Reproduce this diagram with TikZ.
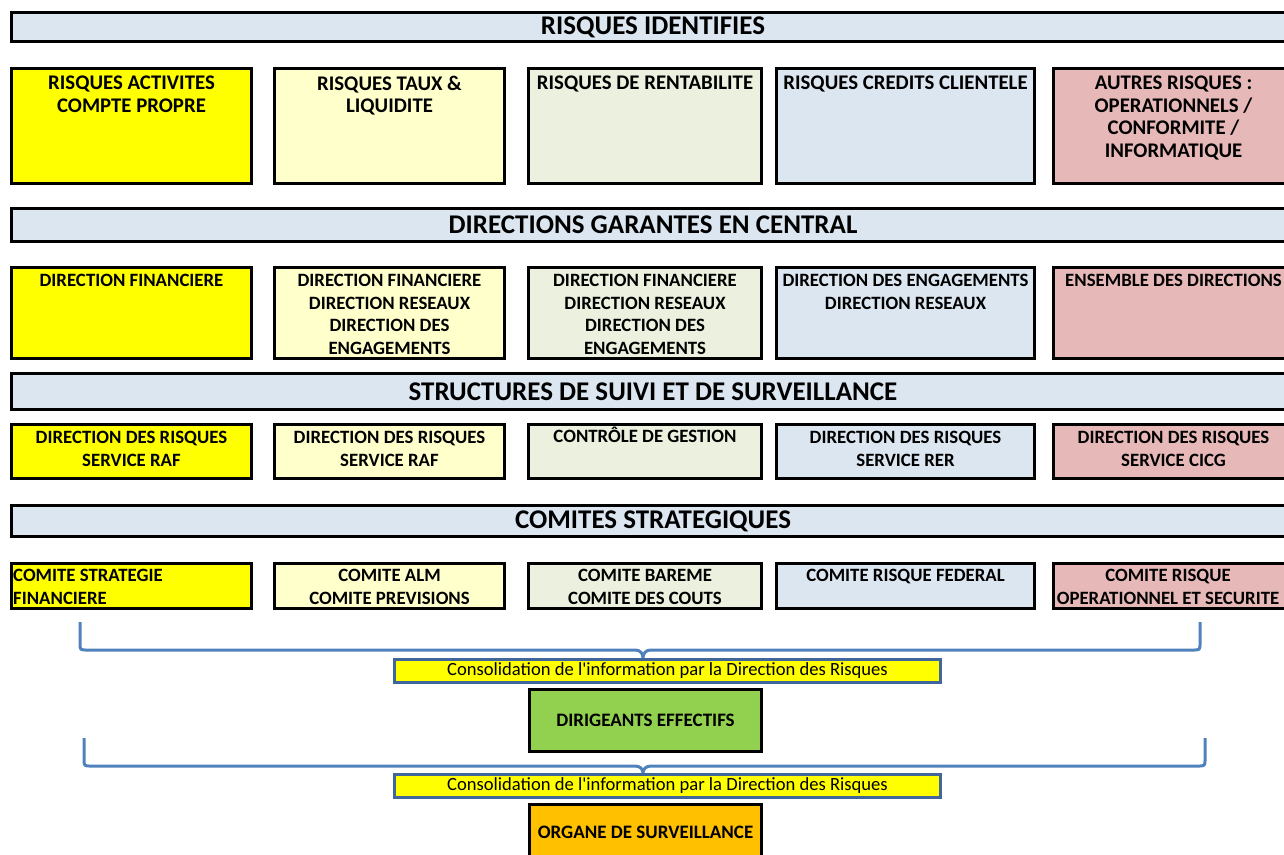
\documentclass[tikz,border=0pt]{standalone}
\usepackage{fontspec}
\setmainfont{Carlito}
\usepackage{tikz}

\definecolor{bleupale}{HTML}{DCE6F1}
\definecolor{jaune}{HTML}{FFFF00}
\definecolor{jaunepale}{HTML}{FFFFCC}
\definecolor{vertpale}{HTML}{EBF1DE}
\definecolor{rosepale}{HTML}{E6B9B8}
\definecolor{vertvif}{HTML}{92D050}
\definecolor{orangevif}{HTML}{FFC000}
\definecolor{bleuaccol}{HTML}{4F81BD}
\definecolor{bleubord}{HTML}{41669C}

\tikzset{
  bandeau/.style={draw, line width=3pt, fill=bleupale, minimum width=1283pt, inner sep=0pt, font=\bfseries\fontsize{27}{32}\selectfont},
  cell/.style={draw, line width=3pt, inner sep=0pt},
  celltxt/.style={anchor=north, align=center, inner sep=0pt, font=\bfseries\fontsize{18.8}{22.7}\selectfont},
  risqtxt/.style={celltxt, font=\bfseries\fontsize{20.8}{22.4}\selectfont},
  consol/.style={draw=bleubord, line width=3pt, fill=jaune, minimum width=546pt, minimum height=23pt, inner sep=0pt, font=\fontsize{18.6}{21}\selectfont},
  dirbox/.style={draw, line width=3pt, minimum width=232pt, inner sep=0pt, font=\bfseries\fontsize{19}{22}\selectfont},
  accol/.style={draw=bleuaccol, line width=3pt, line join=round}
}

\begin{document}
\begin{tikzpicture}[x=1pt, y=-1pt]
\useasboundingbox (0,0) rectangle (1284,854);

\node (h1) at (653,27) [bandeau, minimum height=29pt] {RISQUES IDENTIFIES};

\node (r1c1) at (131.5,126) [cell, fill=jaune, minimum width=240pt, minimum height=115pt] {};
\node (r1c2) at (389.5,126) [cell, fill=jaunepale, minimum width=230pt, minimum height=115pt] {};
\node (r1c3) at (645,126) [cell, fill=vertpale, minimum width=233pt, minimum height=115pt] {};
\node (r1c4) at (905.5,126) [cell, fill=bleupale, minimum width=258pt, minimum height=115pt] {};
\node (r1c5) at (1173.5,126) [cell, fill=rosepale, minimum width=240pt, minimum height=115pt] {};
\node (r1c1t) at (131.5,76) [risqtxt] {RISQUES ACTIVITES\\COMPTE PROPRE};
\node (r1c2t) at (389.5,76) [risqtxt] {RISQUES TAUX \&\\LIQUIDITE};
\node (r1c3t) at (645,76) [risqtxt] {RISQUES DE RENTABILITE};
\node (r1c4t) at (905.5,76) [risqtxt] {RISQUES CREDITS CLIENTELE};
\node (r1c5t) at (1173.5,76) [risqtxt] {AUTRES RISQUES :\\OPERATIONNELS /\\CONFORMITE /\\INFORMATIQUE};

\node (h2) at (653,225) [bandeau, minimum height=33pt] {DIRECTIONS GARANTES EN CENTRAL};

\node (r2c1) at (131.5,313) [cell, fill=jaune, minimum width=240pt, minimum height=91pt] {};
\node (r2c2) at (389.5,313) [cell, fill=jaunepale, minimum width=230pt, minimum height=91pt] {};
\node (r2c3) at (645,313) [cell, fill=vertpale, minimum width=233pt, minimum height=91pt] {};
\node (r2c4) at (905.5,313) [cell, fill=bleupale, minimum width=258pt, minimum height=91pt] {};
\node (r2c5) at (1173.5,313) [cell, fill=rosepale, minimum width=240pt, minimum height=91pt] {};
\node (r2c1t) at (131.5,274) [celltxt] {DIRECTION FINANCIERE};
\node (r2c2t) at (389.5,274) [celltxt] {DIRECTION FINANCIERE\\DIRECTION RESEAUX\\DIRECTION DES\\ENGAGEMENTS};
\node (r2c3t) at (645,274) [celltxt] {DIRECTION FINANCIERE\\DIRECTION RESEAUX\\DIRECTION DES\\ENGAGEMENTS};
\node (r2c4t) at (905.5,274) [celltxt] {DIRECTION DES ENGAGEMENTS\\DIRECTION RESEAUX};
\node (r2c5t) at (1173.5,274) [celltxt] {ENSEMBLE DES DIRECTIONS};

\node (h3) at (653,391.5) [bandeau, minimum height=36pt] {STRUCTURES DE SUIVI ET DE SURVEILLANCE};

\node (r3c1) at (131.5,451.5) [cell, fill=jaune, minimum width=240pt, minimum height=54pt] {};
\node (r3c2) at (389.5,451.5) [cell, fill=jaunepale, minimum width=230pt, minimum height=54pt] {};
\node (r3c3) at (645,451.5) [cell, fill=vertpale, minimum width=233pt, minimum height=54pt] {};
\node (r3c4) at (905.5,451.5) [cell, fill=bleupale, minimum width=258pt, minimum height=54pt] {};
\node (r3c5) at (1173.5,451.5) [cell, fill=rosepale, minimum width=240pt, minimum height=54pt] {};
\node (r3c1t) at (131.5,431) [celltxt] {DIRECTION DES RISQUES\\SERVICE RAF};
\node (r3c2t) at (389.5,431) [celltxt] {DIRECTION DES RISQUES\\SERVICE RAF};
\node (r3c3t) at (645,442.3) [celltxt, anchor=base] {CONTRÔLE DE GESTION};
\node (r3c4t) at (905.5,431) [celltxt] {DIRECTION DES RISQUES\\SERVICE RER};
\node (r3c5t) at (1173.5,431) [celltxt] {DIRECTION DES RISQUES\\SERVICE CICG};

\node (h4) at (653,521) [bandeau, minimum height=31pt] {COMITES STRATEGIQUES};

\node (r4c1) at (131.5,586) [cell, fill=jaune, minimum width=240pt, minimum height=45pt] {};
\node (r4c2) at (389.5,586) [cell, fill=jaunepale, minimum width=230pt, minimum height=45pt] {};
\node (r4c3) at (645,586) [cell, fill=vertpale, minimum width=233pt, minimum height=45pt] {};
\node (r4c4) at (905.5,586) [cell, fill=bleupale, minimum width=258pt, minimum height=45pt] {};
\node (r4c5) at (1173.5,586) [cell, fill=rosepale, minimum width=240pt, minimum height=45pt] {};
\node (r4c1t) at (13,569) [celltxt, anchor=north west, align=left] {COMITE STRATEGIE\\FINANCIERE};
\node (r4c2t) at (389.5,569) [celltxt] {COMITE ALM\\COMITE PREVISIONS};
\node (r4c3t) at (645,569) [celltxt] {COMITE BAREME\\COMITE DES COUTS};
\node (r4c4t) at (905.5,569) [celltxt] {COMITE RISQUE FEDERAL};
\node (r4c5t) at (1168,569) [celltxt] {COMITE RISQUE\\OPERATIONNEL ET SECURITE};

\draw[accol] (80,622) -- (80,643) .. controls (80,650) .. (87,650) -- (635,650)
  .. controls (640,650) and (643,653) .. (643,658) .. controls (643,653) and (646,650) .. (651,650)
  -- (1193,650) .. controls (1200,650) .. (1200,643) -- (1200,622);
\node (cons1) at (667.5,671) [consol] {Consolidation de l\textquotesingle information par la Direction des Risques};
\node (dir) at (645.5,720.5) [dirbox, fill=vertvif, minimum height=62pt] {DIRIGEANTS EFFECTIFS};

\draw[accol] (84,738) -- (84,759) .. controls (84,766) .. (91,766) -- (635,766)
  .. controls (640,766) and (643,769) .. (643,773) .. controls (643,769) and (646,766) .. (651,766)
  -- (1198,766) .. controls (1205,766) .. (1205,759) -- (1205,738);
\node (cons2) at (667.5,785.5) [consol] {Consolidation de l\textquotesingle information par la Direction des Risques};
\node (org) at (645.5,832) [dirbox, fill=orangevif, minimum height=55pt] {ORGANE DE SURVEILLANCE};
\end{tikzpicture}
\end{document}
